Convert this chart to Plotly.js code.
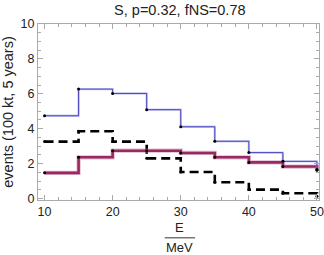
<!DOCTYPE html>
<html><head><meta charset="utf-8">
<script src="https://cdn.plot.ly/plotly-3.0.1.min.js"></script>
<style>html,body{margin:0;padding:0;background:#fff}#c{width:324px;height:255px}</style>
</head><body><div id="c"></div>
<script>
const energies = [10, 15, 20, 25, 30, 35, 40, 45, 50];
const blueSeries = [4.74, 6.27, 6.02, 5.09, 4.11, 3.28, 2.63, 2.13, 1.66];
const purpleSeries = [1.47, 2.36, 2.74, 2.74, 2.61, 2.36, 2.07, 1.83, 1.62];
const dashedSeries = [3.26, 3.85, 3.26, 2.30, 1.52, 0.93, 0.51, 0.30, 0.13];
const xTicks = [10, 20, 30, 40, 50];
const yTicks = [0, 2, 4, 6, 8, 10];

const font = "Liberation Sans, Arial, sans-serif";
const traces = [
  {x: energies, y: dashedSeries, mode: 'lines', line: {shape: 'hv', color: '#000', width: 2.6, dash: '9px,5px'}},
  {x: energies, y: dashedSeries, mode: 'markers', marker: {color: '#000', size: 3}},
  {x: energies, y: purpleSeries, mode: 'lines', line: {shape: 'hv', color: 'rgba(200,130,165,0.55)', width: 4.2}},
  {x: energies, y: purpleSeries, mode: 'lines+markers', line: {shape: 'hv', color: '#982a5f', width: 2.6}, marker: {color: '#000', size: 3}},
  {x: energies, y: blueSeries, mode: 'lines', line: {shape: 'hv', color: 'rgba(160,160,235,0.55)', width: 2.4}},
  {x: energies, y: blueSeries, mode: 'lines+markers', line: {shape: 'hv', color: '#3535b8', width: 0.9}, marker: {color: '#000', size: 3}}
];
const axisCommon = {
  showgrid: false, zeroline: false, showline: true, linecolor: '#aaa', linewidth: 1,
  mirror: 'allticks', ticks: 'inside', ticklen: 5, tickcolor: '#aaa', tickwidth: 1,
  tickfont: {family: font, size: 12.5, color: '#222'}
};
const layout = {
  width: 324, height: 255, showlegend: false,
  paper_bgcolor: '#fff', plot_bgcolor: '#fff',
  margin: {l: 38, r: 5, t: 24, b: 55},
  title: {text: 'S, p=0.32, fNS=0.78', font: {family: font, size: 14.5, color: '#222'}, x: 0.555, xanchor: 'center', y: 0.963, yanchor: 'middle'},
  xaxis: Object.assign({}, axisCommon, {range: [9.04, 50.3], tickvals: xTicks, ticktext: xTicks.map(String),
    minor: {dtick: 2, tick0: 0, ticklen: 3, tickcolor: '#aaa', ticks: 'inside'}}),
  yaxis: Object.assign({}, axisCommon, {range: [-0.086, 10], tickvals: yTicks, ticktext: yTicks.map(String),
    minor: {dtick: 0.5, tick0: 0, ticklen: 3, tickcolor: '#aaa', ticks: 'inside'},
    title: {text: 'events (100 kt, 5 years)', font: {family: font, size: 14.5, color: '#222'}, standoff: 3}}),
  annotations: [
    {xref: 'paper', yref: 'paper', x: 0.505, y: -0.158, text: 'E', showarrow: false, font: {family: font, size: 13, color: '#222'}, xanchor: 'center', yanchor: 'middle'},
    {xref: 'paper', yref: 'paper', x: 0.505, y: -0.272, text: 'MeV', showarrow: false, font: {family: font, size: 13, color: '#222'}, xanchor: 'center', yanchor: 'middle'}
  ],
  shapes: [
    {type: 'line', xref: 'paper', yref: 'paper', x0: 0.451, x1: 0.559, y0: -0.215, y1: -0.215, line: {color: '#333', width: 1}}
  ]
};
Plotly.newPlot('c', traces, layout, {staticPlot: true, displayModeBar: false});
</script></body></html>
